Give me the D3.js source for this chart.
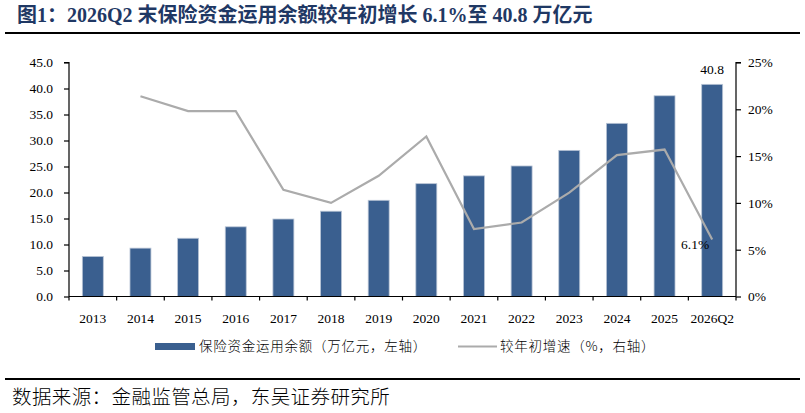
<!DOCTYPE html>
<html>
<head>
<meta charset="utf-8">
<script src="https://cdn.jsdelivr.net/npm/d3@7/dist/d3.min.js"></script>
<style>
  body { margin: 0; background: #fff; }
  svg { display: block; }
  .num { font-family: "Liberation Serif", "Times New Roman", serif; font-size: 13.5px; fill: #000; }
  .cjk { font-family: "Noto Sans CJK SC", sans-serif; fill: #000; }
</style>
</head>
<body>
<div id="chart"></div>
<script>
'use strict';

// data
const categories = ['2013', '2014', '2015', '2016', '2017', '2018', '2019', '2020',
    '2021', '2022', '2023', '2024', '2025', '2026Q2'];
const balance = [7.7, 9.3, 11.2, 13.4, 14.9, 16.4, 18.5, 21.7, 23.2, 25.1, 28.1, 33.3, 38.6, 40.8];
const growth = [null, 21.4, 19.8, 19.8, 11.4, 10.0, 12.9, 17.1, 7.2, 7.9, 11.1, 15.1, 15.7, 6.1];
const leftTicks = [0, 5, 10, 15, 20, 25, 30, 35, 40, 45];
const rightTicks = [0, 5, 10, 15, 20, 25];

const width = 805;
const height = 413;
const plot = {left: 69, right: 736, top: 62.5, bottom: 296.5};

const svg = d3.select('#chart').append('svg')
    .attr('width', width)
    .attr('height', height);

// title + rules
svg.append('text')
    .attr('x', 17)
    .attr('y', 22)
    .attr('font-family', '"Liberation Serif", "Noto Sans CJK SC", serif')
    .attr('font-weight', 'bold')
    .attr('font-size', 20)
    .attr('fill', '#1f3864')
    .text('图1：2026Q2 末保险资金运用余额较年初增长 6.1%至 40.8 万亿元');

svg.append('line')
    .attr('x1', 5).attr('x2', 800)
    .attr('y1', 33).attr('y2', 33)
    .attr('stroke', '#000').attr('stroke-width', 2.2);

svg.append('line')
    .attr('x1', 5).attr('x2', 800)
    .attr('y1', 379).attr('y2', 379)
    .attr('stroke', '#000').attr('stroke-width', 2.2);

svg.append('text')
    .attr('class', 'cjk')
    .attr('x', 12)
    .attr('y', 404)
    .attr('font-size', 19.5)
    .attr('font-weight', 300)
    .attr('letter-spacing', 0.4)
    .text('数据来源：金融监管总局，东吴证券研究所');

// scales
const x = d3.scaleBand()
    .domain(categories)
    .range([plot.left, plot.right])
    .padding(0);
const yL = d3.scaleLinear().domain([0, 45]).range([plot.bottom, plot.top]);
const yR = d3.scaleLinear().domain([0, 0.25]).range([plot.bottom, plot.top]);

// bars
const barW = x.bandwidth() * 0.44;
svg.append('g')
    .selectAll('rect')
    .data(balance)
    .enter()
    .append('rect')
    .attr('x', (d, i) => x(categories[i]) + (x.bandwidth() - barW) / 2)
    .attr('y', d => yL(d))
    .attr('width', barW)
    .attr('height', d => yL(0) - yL(d))
    .attr('fill', '#3a5f8f')
    .attr('stroke', '#b9c5d6')
    .attr('stroke-width', 0.8);

// growth line
const line = d3.line()
    .defined(d => d != null)
    .x((d, i) => x(categories[i]) + x.bandwidth() / 2)
    .y(d => yR(d / 100));
svg.append('path')
    .datum(growth)
    .attr('d', line)
    .attr('fill', 'none')
    .attr('stroke', '#ababab')
    .attr('stroke-width', 2.2);

// axes
const gl = svg.append('g')
    .attr('transform', `translate(${plot.left},0)`)
    .call(d3.axisLeft(yL).tickValues(leftTicks).tickFormat(d3.format('.1f'))
        .tickSize(5).tickPadding(11));

const gr = svg.append('g')
    .attr('transform', `translate(${plot.right},0)`)
    .call(d3.axisRight(yR).tickValues(rightTicks.map(v => v / 100)).tickFormat(d3.format('.0%'))
        .tickSize(5).tickPadding(7));

const gx = svg.append('g')
    .attr('transform', `translate(0,${plot.bottom})`)
    .call(d3.axisBottom(x).tickSize(0).tickPadding(17));

[gl, gr, gx].forEach(g => {
    g.selectAll('path.domain').attr('fill', 'none').attr('stroke', '#000').attr('stroke-width', 1.2);
    g.selectAll('.tick line').attr('stroke', '#000').attr('stroke-width', 1.2);
    g.selectAll('text')
        .attr('font-family', '"Liberation Serif", "Times New Roman", serif')
        .attr('font-size', 13.5)
        .attr('fill', '#000');
});
gl.selectAll('path.domain').attr('d', `M-5,${plot.top}H0V${plot.bottom}`);
gr.selectAll('path.domain').attr('d', `M5,${plot.top}H0V${plot.bottom}`);
gx.selectAll('path.domain').attr('d', `M${plot.left},0H${plot.right}`);

// x tick marks sit on band boundaries
gx.append('g')
    .selectAll('line')
    .data(categories.concat([null]))
    .enter()
    .append('line')
    .attr('x1', d => d == null ? plot.right : x(d))
    .attr('x2', d => d == null ? plot.right : x(d))
    .attr('y1', 0)
    .attr('y2', 4)
    .attr('stroke', '#000')
    .attr('stroke-width', 1.2);

// value labels
const last = categories.length - 1;
svg.append('text')
    .attr('class', 'num')
    .attr('x', x(categories[last]) + x.bandwidth() / 2)
    .attr('y', yL(balance[last]) - 10)
    .attr('text-anchor', 'middle')
    .text(balance[last].toFixed(1));

svg.append('text')
    .attr('class', 'num')
    .attr('x', x(categories[last]) + x.bandwidth() / 2 - 3)
    .attr('y', yR(growth[last] / 100) + 10)
    .attr('text-anchor', 'end')
    .text(growth[last].toFixed(1) + '%');

// legend
const lg = svg.append('g');
lg.append('rect')
    .attr('x', 155).attr('y', 343)
    .attr('width', 40).attr('height', 7)
    .attr('fill', '#3a5f8f');
lg.append('text')
    .attr('class', 'cjk')
    .attr('x', 199).attr('y', 351)
    .attr('font-size', 13.5)
    .attr('font-weight', 300)
    .attr('letter-spacing', 0.75)
    .text('保险资金运用余额（万亿元，左轴）');
lg.append('line')
    .attr('x1', 458).attr('x2', 497)
    .attr('y1', 346.5).attr('y2', 346.5)
    .attr('stroke', '#ababab')
    .attr('stroke-width', 2.2);
lg.append('text')
    .attr('class', 'cjk')
    .attr('x', 500).attr('y', 351)
    .attr('font-size', 13.5)
    .attr('font-weight', 300)
    .attr('letter-spacing', 0.75)
    .text('较年初增速（%，右轴）');
</script>
</body>
</html>
